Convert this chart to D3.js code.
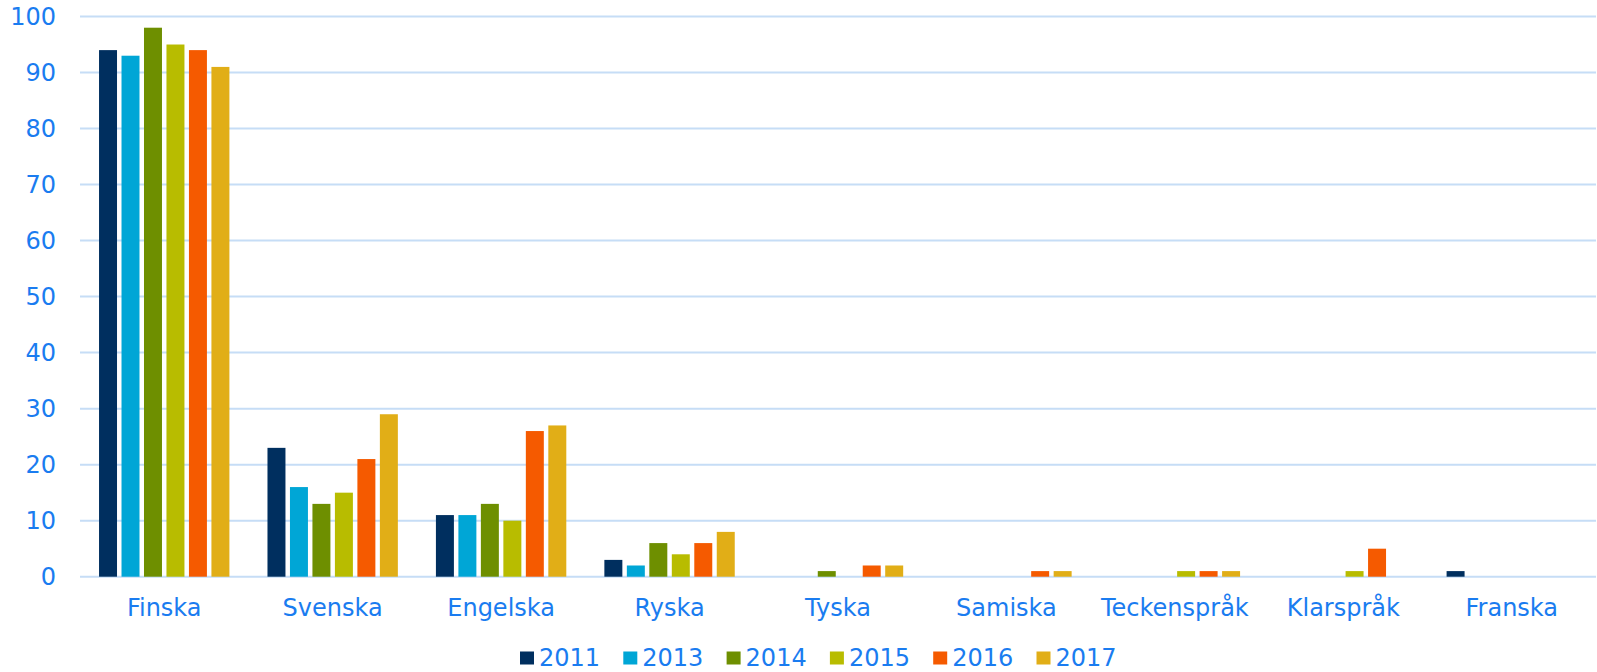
<!DOCTYPE html>
<html><head><meta charset="utf-8">
<script src="https://cdn.jsdelivr.net/npm/d3@7"></script>
<style>body{margin:0;background:#fff}svg{display:block}</style>
</head><body><svg id="c" width="1597" height="672"></svg>
<script>
const categories = ["Finska","Svenska","Engelska","Ryska","Tyska","Samiska","Teckenspråk","Klarspråk","Franska"];
const years = ["2011","2013","2014","2015","2016","2017"];
const colors = ["#002F5F","#00A6D6","#6E8F00","#B8BC00","#F55A00","#E1AE17"];
const v2011 = [94,23,11,3,0,0,0,0,1];
const v2013 = [93,16,11,2,0,0,0,0,0];
const v2014 = [98,13,13,6,1,0,0,0,0];
const v2015 = [95,15,10,4,0,0,1,1,0];
const v2016 = [94,21,26,6,2,1,1,5,0];
const v2017 = [91,29,27,8,2,1,1,0,0];
const yTicks = [0,10,20,30,40,50,60,70,80,90,100];
const series = [v2011,v2013,v2014,v2015,v2016,v2017];

const svg = d3.select("#c");
const font = "Verdana, 'DejaVu Sans', sans-serif";
const txt = "#1A7CF0";
const x0 = d3.scaleBand().domain(categories).range([80,1596]).paddingInner(0.226).paddingOuter(0.113);
const x1 = d3.scaleBand().domain(years).range([0,x0.bandwidth()]).paddingInner(0.2);
const y = d3.scaleLinear().domain([0,100]).range([576.7,16.5]);

const grid = svg.append("g");
grid.selectAll("line").data(yTicks).join("line")
  .attr("x1",80).attr("x2",1596)
  .attr("y1",d=>y(d)).attr("y2",d=>y(d))
  .attr("stroke","#C6DDF6").attr("stroke-width",2);

const yAxis = d3.axisLeft(y).tickValues(yTicks).tickSize(0).tickPadding(0);
const ya = svg.append("g").attr("transform","translate(56,0)").call(yAxis);
ya.select(".domain").remove();
ya.selectAll("text").attr("fill",txt).style("font-family",font).style("font-size","24px");

const g = svg.append("g");
categories.forEach((c,ci)=>{
  years.forEach((yr,si)=>{
    const v = series[si][ci];
    if(v<=0) return;
    g.append("rect")
      .attr("x",x0(c)+x1(yr)).attr("width",x1.bandwidth())
      .attr("y",y(v)).attr("height",y(0)-y(v))
      .attr("fill",colors[si]);
  });
});

const xAxis = d3.axisBottom(x0).tickSize(0).tickPadding(0);
const xa = svg.append("g").attr("transform","translate(0,616)").call(xAxis);
xa.select(".domain").remove();
xa.selectAll("text").attr("fill",txt).attr("dy","0").style("font-family",font).style("font-size","24px");

const lg = svg.append("g");
const lx = d3.scaleBand().domain(years).range([520,520+6*103.3]);
years.forEach((yr,i)=>{
  lg.append("rect").attr("x",lx(yr)).attr("y",651.5).attr("width",14).attr("height",13).attr("fill",colors[i]);
  lg.append("text").attr("x",lx(yr)+19).attr("y",666).text(yr)
    .attr("fill",txt).style("font-family",font).style("font-size","24px");
});
</script></body></html>
